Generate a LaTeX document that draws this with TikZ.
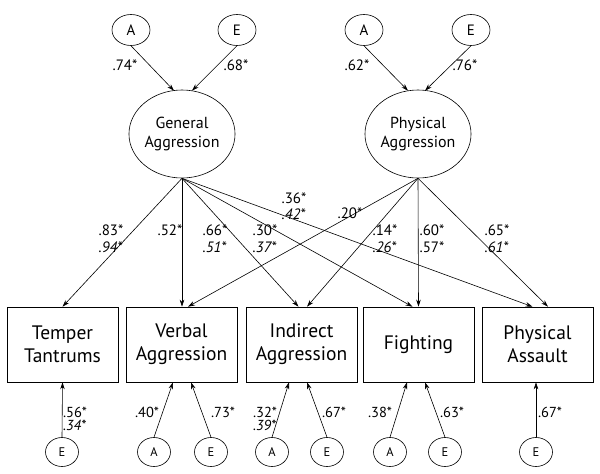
\documentclass[tikz,border=0pt]{standalone}
\usepackage{fontspec}
\setmainfont{PT Sans}
\usetikzlibrary{shapes.geometric,arrows.meta,calc}
\begin{document}
\begin{tikzpicture}[x=1pt,y=-1pt,
 lat/.style={ellipse,draw,line width=0.6pt,minimum width=38pt,minimum height=31pt,inner sep=0pt,font=\fontsize{15}{15}\selectfont},
 slat/.style={ellipse,draw,line width=0.6pt,minimum width=33pt,minimum height=29pt,inner sep=0pt,font=\fontsize{12.5}{12.5}\selectfont},
 factor/.style={ellipse,draw,line width=0.6pt,minimum width=98pt,minimum height=88pt,inner sep=0pt,align=center,font=\fontsize{16}{19}\selectfont},
 obs/.style={rectangle,draw,line width=0.6pt,minimum width=111pt,minimum height=75pt,inner sep=0pt,align=center,font=\fontsize{19.5}{23}\selectfont},
 arr/.style={-{Stealth[length=7pt,width=4.5pt]},line width=0.6pt},
 lab/.style={font=\fontsize{15}{16.5}\selectfont,inner sep=0pt,align=left},
 blab/.style={font=\fontsize{14.5}{13.5}\selectfont,inner sep=0pt,align=left}]
\useasboundingbox[fill=white] (0,0) rectangle (600,474);

% top latent factors
\node[lat] (a1) at (131,30) {A};
\node[lat] (e1) at (237,30) {E};
\node[lat] (a2) at (364,30) {A};
\node[lat] (e2) at (471,30) {E};
\node[factor] (ga) at (182,134) {General\\Aggression};
\node[factor] (pa) at (418,134) {Physical\\Aggression};

\draw[arr] (a1.south) -- ($(ga.north)+(-8,1)$);
\draw[arr] (e1.south) -- ($(ga.north)+(10,1)$);
\draw[arr] (a2.south) -- ($(pa.north)+(-10,1)$);
\draw[arr] (e2.south) -- ($(pa.north)+(7,1)$);
\node[lab] (l74) at (125,65) {.74*};
\node[lab] (l68) at (236,65) {.68*};
\node[lab] (l62) at (357,65) {.62*};
\node[lab] (l76) at (465,65) {.76*};

% observed boxes
\node[obs] (tt) at (62.5,344.5) {Temper\\Tantrums};
\node[obs] (va) at (181.5,344.5) {Verbal\\Aggression};
\node[obs] (ia) at (301.5,344.5) {Indirect\\Aggression};
\node[obs] (fi) at (418.5,344.5) {Fighting};
\node[obs] (ps) at (537.5,344.5) {Physical\\Assault};

% paths from General Aggression
\draw[arr] (ga.south) -- ($(tt.north)+(0,0)$);
\draw[arr] (ga.south) -- ($(va.north)+(0.5,0)$);
\draw[arr] (ga.south) -- ($(ia.north)+(-3,0)$);
\draw[arr] (ga.south) -- ($(fi.north)+(-6,0)$);
\draw[arr] (ga.south) -- ($(ps.north)+(-5,0)$);
% paths from Physical Aggression
\draw[arr] (pa.south) -- ($(va.north)+(6.5,0)$);
\draw[arr] (pa.south) -- ($(ia.north)+(5.5,0)$);
\draw[arr] (pa.south) -- (fi.north);
\draw[arr] (pa.south) -- ($(ps.north)+(10.5,0)$);

\node[lab] (l83) at (111,238.5) {.83*\\\textit{.94*}};
\node[lab] (l52) at (170,230) {.52*};
\node[lab] (l66) at (215,238.5) {.66*\\\textit{.51*}};
\node[lab] (l30) at (265,238.5) {.30*\\\textit{.37*}};
\node[lab] (l36) at (294,206) {.36*\\\textit{.42*}};
\node[lab] (l20) at (350,213) {.20*};
\node[lab] (l14) at (385,238.5) {.14*\\\textit{.26*}};
\node[lab] (l60) at (432,238.5) {.60*\\.57*};
\node[lab] (l65) at (497,238.5) {.65*\\\textit{.61*}};

% bottom latent factors
\node[slat] (ett) at (62,452) {E};
\node[slat] (ava) at (154,452) {A};
\node[slat] (eva) at (211,452) {E};
\node[slat] (aia) at (272,452) {A};
\node[slat] (eia) at (327,452) {E};
\node[slat] (afi) at (390,452) {A};
\node[slat] (efi) at (445,452) {E};
\node[slat] (eps) at (536,452) {E};

\draw[arr] (ett.north) -- (tt.south);
\draw[arr] (ava.north) -- ($(va.south)+(-8.5,0)$);
\draw[arr] (eva.north) -- ($(va.south)+(9.5,0)$);
\draw[arr] (aia.north) -- ($(ia.south)+(-12.5,0)$);
\draw[arr] (eia.north) -- ($(ia.south)+(5.5,0)$);
\draw[arr] (afi.north) -- ($(fi.south)+(-11.5,0)$);
\draw[arr] (efi.north) -- ($(fi.south)+(6.5,0)$);
\draw[arr] (eps.north) -- ($(ps.south)+(-1.5,0)$);

\node[blab] (l56) at (75,419) {.56*\\\textit{.34*}};
\node[blab] (l40) at (147,412) {.40*};
\node[blab] (l73) at (223,412) {.73*};
\node[blab] (l32) at (265,419) {.32*\\\textit{.39*}};
\node[blab] (l67a) at (334,412) {.67*};
\node[blab] (l38) at (380,412) {.38*};
\node[blab] (l63) at (452,412) {.63*};
\node[blab] (l67b) at (550,412) {.67*};
\end{tikzpicture}
\end{document}
